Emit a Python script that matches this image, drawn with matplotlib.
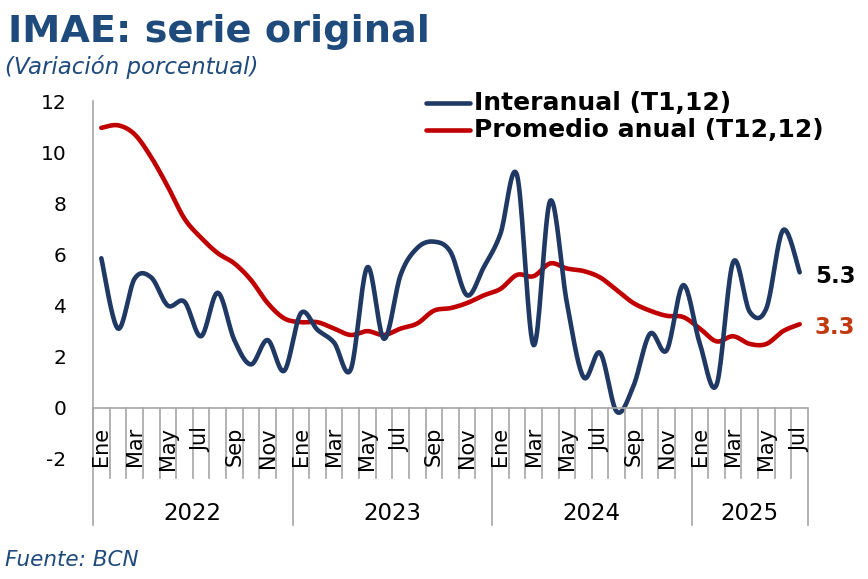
import matplotlib
matplotlib.use("Agg")
import matplotlib.pyplot as plt
from matplotlib.lines import Line2D
import numpy as np

# datos mensuales ene-2022 .. jul-2025
years = ["2022", "2023", "2024", "2025"]
months_per_year = [12, 12, 12, 7]
month_names = ["Ene", "Feb", "Mar", "Abr", "May", "Jun",
               "Jul", "Ago", "Sep", "Oct", "Nov", "Dic"]

interanual = [5.85, 3.1, 5.05, 5.1, 4.0, 4.15, 2.8, 4.5, 2.65, 1.7, 2.65, 1.45,
              3.7, 3.05, 2.55, 1.5, 5.5, 2.7, 5.2, 6.25, 6.5, 6.1, 4.4, 5.5,
              6.8, 9.1, 2.45, 8.1, 4.1, 1.2, 2.15, -0.15, 0.85, 2.9, 2.25, 4.8,
              2.5, 0.9, 5.7, 3.75, 3.9, 6.95, 5.3]
promedio = [10.95, 11.05, 10.7, 9.8, 8.65, 7.4, 6.65, 6.05, 5.65, 5.0, 4.1, 3.5,
            3.35, 3.35, 3.1, 2.85, 3.0, 2.85, 3.1, 3.3, 3.8, 3.9, 4.1, 4.4,
            4.65, 5.2, 5.15, 5.65, 5.45, 5.35, 5.1, 4.6, 4.1, 3.8, 3.6, 3.55,
            3.1, 2.6, 2.8, 2.5, 2.5, 3.0, 3.27]

BLUE = "#1F3864"
RED = "#C00000"
TITLE = "#1F4A7C"
GREY = "#A6A6A6"


def smooth(y, n=20):
    # curva suavizada tipo Excel (bezier / catmull-rom)
    y = np.asarray(y, dtype=float)
    x = np.arange(len(y), dtype=float)
    p = np.vstack([x, y]).T
    pts = np.vstack([p[0], p, p[-1]])
    out = []
    t = np.linspace(0, 1, n, endpoint=False)[:, None]
    for i in range(1, len(pts) - 2):
        p0, p1, p2, p3 = pts[i - 1], pts[i], pts[i + 1], pts[i + 2]
        c1 = p1 + (p2 - p0) / 6
        c2 = p2 - (p3 - p1) / 6
        seg = ((1 - t) ** 3) * p1 + 3 * ((1 - t) ** 2) * t * c1 \
            + 3 * (1 - t) * t ** 2 * c2 + t ** 3 * p2
        out.append(seg)
    out.append(p[-1][None, :])
    out = np.vstack(out)
    return out[:, 0], out[:, 1]


fig = plt.figure(figsize=(8.68, 5.79), dpi=100)
W, H = 868, 579
ax = fig.add_axes([93 / W, 1 - 459 / H, 715 / W, 358 / H])

n = len(interanual)
xb, yb = smooth(interanual)
xr, yr = smooth(promedio)
ax.plot(xr, yr, color=RED, lw=3.3, solid_capstyle="round")
ax.plot(xb, yb, color=BLUE, lw=3.3, solid_capstyle="round")

ax.set_xlim(-0.5, n - 0.5)
ax.set_ylim(-2, 12)
ax.set_yticks(range(-2, 13, 2))
ax.set_yticklabels([str(v) for v in range(-2, 13, 2)], fontsize=14.5)
ax.tick_params(axis="y", length=0, pad=19)
ax.set_xticks([])
for s in ["top", "right", "bottom"]:
    ax.spines[s].set_visible(False)
ax.spines["left"].set_color(GREY)
ax.spines["left"].set_linewidth(1.2)
ax.axhline(0, color=GREY, lw=1.2)

# eje de categorias (meses / anios)
trans = ax.get_xaxis_transform()
y0 = 2 / 14
y_tick = (459 - 478) / 358
y_year = (459 - 525) / 358
boundaries = np.cumsum([0] + months_per_year)
for k in range(n + 1):
    bottom = y_year if k in boundaries else y_tick
    ax.plot([k - 0.5, k - 0.5], [y0, bottom], transform=trans,
            color=GREY, lw=1.2, clip_on=False)

idx = 0
for yr_lab, m in zip(years, months_per_year):
    for j in range(m):
        if j % 2 == 0:
            ax.text(idx + j, (459 - 427) / 358, month_names[j], transform=trans,
                    rotation=90, ha="center", va="top", fontsize=15)
    ax.text(idx + (m - 1) / 2, (459 - 513) / 358, yr_lab, transform=trans,
            ha="center", va="center", fontsize=16.5)
    idx += m

# etiquetas finales
ax.annotate(f"{interanual[-1]:.1f}", (n - 1, interanual[-1]), xytext=(11, -3),
            textcoords="offset points", ha="left", va="center",
            fontsize=16.5, fontweight="bold", color="black", annotation_clip=False)
ax.annotate(f"{promedio[-1]:.1f}", (n - 1, promedio[-1]), xytext=(11, -2),
            textcoords="offset points", ha="left", va="center",
            fontsize=16.5, fontweight="bold", color="#C0390F", annotation_clip=False)

# leyenda
for yy, col, lab in [(103, BLUE, "Interanual (T1,12)"),
                     (130, RED, "Promedio anual (T12,12)")]:
    fig.add_artist(Line2D([426 / W, 470 / W], [1 - yy / H, 1 - yy / H],
                          color=col, lw=3.3, solid_capstyle="round"))
    fig.text(474 / W, 1 - yy / H, lab, ha="left", va="center",
             fontsize=18, fontweight="bold", color="black")

fig.text(8 / W, 1 - 42 / H, "IMAE: serie original", ha="left", va="baseline",
         fontsize=27.5, fontweight="bold", color=TITLE)
fig.text(5 / W, 1 - 74 / H, "(Variación porcentual)", ha="left", va="baseline",
         fontsize=16.5, style="italic", color=TITLE)
fig.text(5 / W, 1 - 560 / H, "Fuente: BCN", ha="left", va="center",
         fontsize=15.5, style="italic", color=TITLE)

fig.savefig("out.png", dpi=100)
